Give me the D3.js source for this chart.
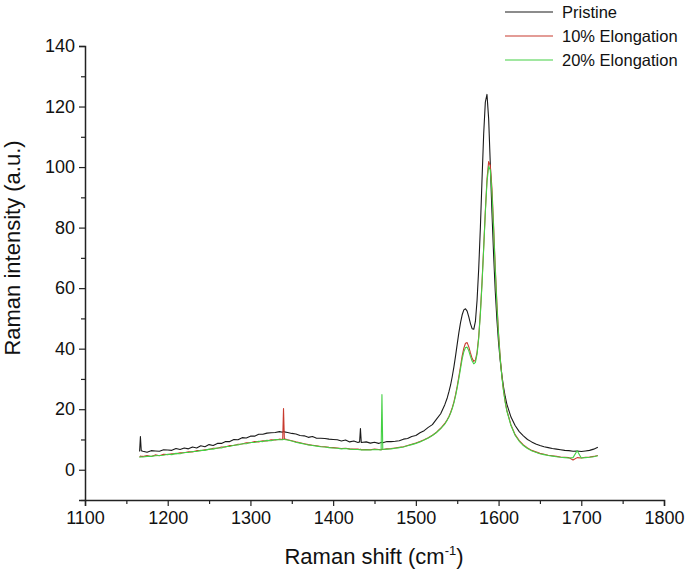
<!DOCTYPE html>
<html>
<head>
<meta charset="utf-8">
<script src="https://cdn.jsdelivr.net/npm/d3@7"></script>
<style>
  body { margin: 0; background: #fff; }
  svg { font-family: Arial, "Liberation Sans", sans-serif; }
</style>
</head>
<body>
<div id="chart"></div>
<script>
// Raman shift (cm-1), shared by the three spectra
const shift = [
  1166, 1167, 1168,
  1170, 1175, 1180, 1185, 1190, 1195, 1200, 1205, 1210, 1215, 1220, 1225, 1230, 1235, 1240, 1245,
  1250, 1255, 1260, 1265, 1270, 1275, 1280, 1285, 1290, 1295, 1300, 1305, 1310, 1315, 1320, 1325,
  1330, 1335,
  1339, 1340, 1341,
  1345, 1350, 1355, 1360, 1365, 1370, 1375, 1380, 1385, 1390, 1395, 1400, 1405, 1410, 1415, 1420,
  1425, 1430,
  1432, 1433, 1434,
  1440, 1445, 1450, 1455,
  1458, 1459, 1460,
  1465, 1470, 1475, 1480, 1485, 1490, 1495, 1500, 1505, 1510, 1515, 1520, 1525, 1530, 1535,
  1538, 1540, 1542, 1544, 1546, 1548, 1550, 1552, 1554, 1556, 1558, 1560, 1562, 1564, 1566, 1568,
  1570, 1572, 1574, 1576, 1578, 1580, 1582, 1584, 1586, 1588, 1590, 1592, 1594, 1596, 1598, 1600,
  1602, 1604, 1606, 1608, 1610,
  1615, 1620, 1625, 1630, 1635, 1640, 1645, 1650, 1655, 1660, 1665, 1670, 1675, 1680, 1685, 1690,
  1695, 1700, 1705, 1710, 1715, 1720
];

const pristine = [
  6.0, 11.0, 6.3,
  6.1, 5.8, 6.3, 6.2, 6.1, 6.6, 6.5, 6.4, 7.0, 6.7, 7.2, 6.9, 7.5, 7.2, 7.9, 7.6,
  8.3, 8.0, 8.7, 8.7, 9.3, 9.3, 10.0, 9.9, 10.6, 10.5, 11.1, 11.1, 11.7, 11.7, 12.1, 12.2,
  12.3, 12.6,
  12.4, 12.8, 12.5,
  12.3, 12.0, 11.8, 11.3, 11.2, 10.7, 11.0, 10.4, 10.4, 10.3, 10.1, 10.0, 9.9, 9.5, 9.8, 9.2,
  9.5, 9.0,
  9.2, 13.6, 9.0,
  9.2, 8.8, 9.1, 8.7,
  9.0, 9.1, 8.9,
  9.3, 9.3, 9.4, 9.6, 10.1, 10.3, 11.0, 11.3, 12.2, 12.9, 14.0, 14.9, 16.7, 18.5, 21.5,
  23.8, 25.8, 28.0, 30.8, 34.0, 37.6, 41.5, 45.3, 48.6, 51.2, 52.8, 53.2, 52.4, 50.5, 48.3, 46.6,
  46.4, 49.0, 56.0, 66.5, 80.0, 96.0, 111.0, 121.5, 124.0, 116.0, 101.0, 85.0, 71.0, 59.0, 49.5, 42.0,
  36.0, 31.2, 27.3, 24.2, 21.7,
  17.4, 14.6, 12.6, 11.2, 10.0, 9.2, 8.5, 8.0, 7.6, 7.3, 7.0, 6.8, 6.6, 6.4, 6.3, 6.1,
  6.2, 6.0, 6.2, 6.4, 6.8, 7.4
];

const elong10 = [
  4.3, 4.5, 4.4,
  4.4, 4.7, 4.4, 4.9, 4.6, 5.1, 5.0, 5.3, 5.3, 5.6, 5.6, 5.9, 5.9, 6.3, 6.3, 6.6,
  6.7, 7.1, 7.1, 7.5, 7.5, 8.0, 8.0, 8.4, 8.5, 8.9, 8.9, 9.3, 9.2, 9.6, 9.5, 9.9,
  9.8, 10.1,
  10.0, 20.2, 10.2,
  9.9, 9.6, 9.2, 8.9, 8.6, 8.3, 8.1, 7.9, 7.7, 7.6, 7.4, 7.3, 7.2, 7.0, 7.1, 6.9,
  6.8, 6.8,
  6.7, 6.8, 6.6,
  6.7, 6.6, 6.8, 6.7,
  6.6, 6.8, 6.7,
  6.9, 7.0, 7.2, 7.4, 7.6, 8.0, 8.4, 8.8, 9.3, 9.9, 10.6, 11.4, 12.4, 13.7, 15.3,
  16.6, 17.6, 18.9, 20.5, 22.4, 24.8, 27.6, 30.8, 34.2, 37.6, 40.2, 41.8, 42.0, 40.6, 38.6, 36.8,
  35.8, 36.2, 38.8, 44.0, 52.0, 62.0, 73.5, 85.5, 96.0, 101.8, 100.5, 93.0, 80.5, 67.0, 55.0, 45.0,
  37.0, 31.0, 26.2, 22.5, 19.6,
  14.8, 11.6, 9.6, 8.2, 7.2, 6.4, 5.9, 5.4, 5.1, 4.8, 4.6, 4.4, 4.2, 4.1, 4.0, 3.2,
  4.0, 3.9, 4.1, 4.2, 4.4, 4.7
];

const elong20 = [
  4.0, 4.3, 4.2,
  4.2, 4.4, 4.4, 4.6, 4.7, 4.8, 5.1, 5.0, 5.4, 5.3, 5.7, 5.7, 6.0, 6.0, 6.4, 6.4,
  6.8, 6.8, 7.2, 7.2, 7.7, 7.7, 8.1, 8.2, 8.6, 8.6, 9.0, 9.0, 9.4, 9.3, 9.7, 9.6,
  10.0, 9.9,
  9.9, 10.1, 10.0,
  9.8, 9.5, 9.1, 8.8, 8.5, 8.2, 8.0, 7.8, 7.6, 7.5, 7.3, 7.2, 7.1, 6.9, 7.0, 6.8,
  6.7, 6.7,
  6.6, 6.7, 6.5,
  6.6, 6.5, 6.7, 6.6,
  6.5, 24.8, 6.7,
  6.8, 6.9, 7.1, 7.3, 7.5, 7.9, 8.3, 8.7, 9.2, 9.8, 10.5, 11.3, 12.3, 13.6, 15.1,
  16.4, 17.4, 18.7, 20.2, 22.1, 24.4, 27.1, 30.2, 33.4, 36.6, 39.0, 40.4, 40.5, 39.3, 37.5, 35.9,
  35.0, 35.5, 38.2, 43.5, 51.5, 61.5, 73.0, 85.0, 95.0, 100.2, 99.0, 91.5, 79.5, 66.0, 54.2, 44.5,
  36.6, 30.7, 26.0, 22.3, 19.4,
  14.6, 11.4, 9.4, 8.0, 7.0, 6.3, 5.8, 5.3, 5.0, 4.7, 4.5, 4.3, 4.1, 4.0, 3.9, 4.0,
  6.3, 3.9, 4.0, 4.1, 4.3, 4.6
];

const seriesNames = ['Pristine', '10% Elongation', '20% Elongation'];
const seriesColors = ['#1a1a1a', '#c83a2e', '#44d044'];
const xTicks = [1100, 1200, 1300, 1400, 1500, 1600, 1700, 1800];
const xMinor = [1150, 1250, 1350, 1450, 1550, 1650, 1750];
const yTicks = [0, 20, 40, 60, 80, 100, 120, 140];
const yMinor = [-10, 10, 30, 50, 70, 90, 110, 130];

const W = 685, H = 575;
const margin = { top: 46, right: 21, bottom: 75, left: 85 };

const svg = d3.select('#chart').append('svg')
  .attr('width', W)
  .attr('height', H);

const x = d3.scaleLinear().domain([1100, 1800]).range([margin.left, W - margin.right]);
const y = d3.scaleLinear().domain([-10, 140]).range([H - margin.bottom, margin.top]);

// spectra
const allSeries = [pristine, elong10, elong20];
const line = d3.line()
  .x((d, i) => x(shift[i]))
  .y(d => y(d));

allSeries.forEach((vals, k) => {
  svg.append('path')
    .datum(vals)
    .attr('fill', 'none')
    .attr('stroke', seriesColors[k])
    .attr('stroke-width', 1.1)
    .attr('stroke-linejoin', 'round')
    .attr('d', line);
});

// axes
svg.append('g')
  .attr('transform', `translate(0,${y(-10)})`)
  .call(d3.axisBottom(x).tickValues(xTicks).tickSize(6).tickPadding(5).tickFormat(d3.format('d')));
svg.append('g')
  .attr('transform', `translate(0,${y(-10)})`)
  .call(d3.axisBottom(x).tickValues(xMinor).tickSize(4).tickFormat(''))
  .select('.domain').remove();

svg.append('g')
  .attr('transform', `translate(${x(1100)},0)`)
  .call(d3.axisLeft(y).tickValues(yTicks).tickSize(6).tickPadding(4));
svg.append('g')
  .attr('transform', `translate(${x(1100)},0)`)
  .call(d3.axisLeft(y).tickValues(yMinor).tickSize(4).tickFormat(''))
  .select('.domain').remove();

svg.selectAll('.domain').attr('stroke', '#222').attr('stroke-width', 1.5);
svg.selectAll('.tick line').attr('stroke', '#222').attr('stroke-width', 1.2);
svg.selectAll('.tick text')
  .attr('font-size', 18)
  .attr('font-family', 'Arial, "Liberation Sans", sans-serif')
  .attr('fill', '#111');

// axis titles
const xTitle = svg.append('text')
  .attr('x', 374)
  .attr('y', 564)
  .attr('text-anchor', 'middle')
  .attr('font-size', 22)
  .attr('fill', '#111');
xTitle.append('tspan').text('Raman shift (cm');
xTitle.append('tspan').attr('font-size', 13).attr('dy', -9).text('-1');
xTitle.append('tspan').attr('dy', 9).text(')');

svg.append('text')
  .attr('transform', 'translate(20,248) rotate(-90)')
  .attr('text-anchor', 'middle')
  .attr('font-size', 22)
  .attr('fill', '#111')
  .text('Raman intensity (a.u.)');

// legend
const legend = svg.append('g');
seriesNames.forEach((name, k) => {
  const ly = 12 + k * 24;
  legend.append('line')
    .attr('x1', 505).attr('x2', 553)
    .attr('y1', ly).attr('y2', ly)
    .attr('stroke', seriesColors[k])
    .attr('stroke-width', 1.1);
  legend.append('text')
    .attr('x', 562).attr('y', ly + 6)
    .attr('font-size', 16.5)
    .attr('fill', '#111')
    .text(name);
});
</script>
</body>
</html>
